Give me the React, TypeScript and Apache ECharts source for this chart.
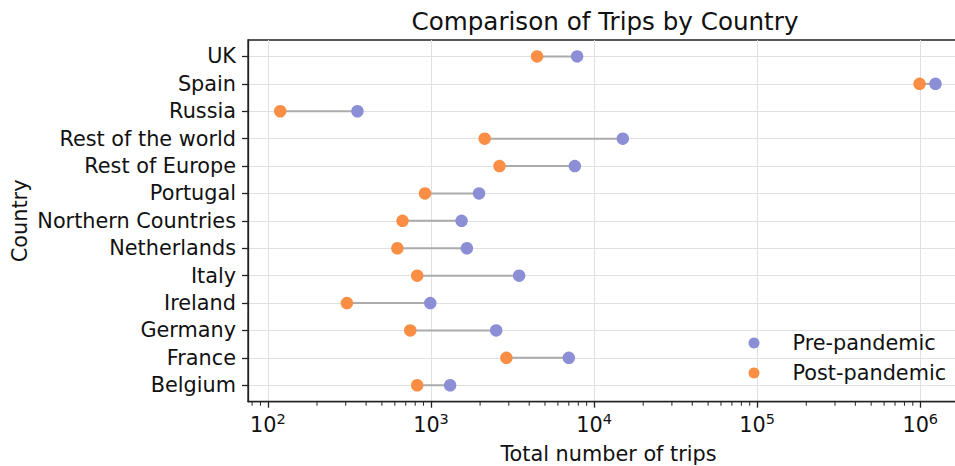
import React, { useEffect, useRef } from 'react';
import * as echarts from 'echarts';

const countries = [
  'Belgium', 'France', 'Germany', 'Ireland', 'Italy', 'Netherlands',
  'Northern Countries', 'Portugal', 'Rest of Europe', 'Rest of the world',
  'Russia', 'Spain', 'UK',
];
const prePandemic = [1310, 7000, 2510, 990, 3470, 1660, 1540, 1970, 7620, 15000, 354, 1240000, 7870];
const postPandemic = [823, 2900, 746, 305, 823, 622, 669, 919, 2630, 2135, 119, 990000, 4470];
const majorTicks = [100, 1000, 10000, 100000, 1000000];
const minorTicks = [
  80, 90,
  200, 300, 400, 500, 600, 700, 800, 900,
  2000, 3000, 4000, 5000, 6000, 7000, 8000, 9000,
  20000, 30000, 40000, 50000, 60000, 70000, 80000, 90000,
  200000, 300000, 400000, 500000, 600000, 700000, 800000, 900000,
];
const categoryIndex = countries.map((_, i) => i);
const X_MIN = 75.5;
const X_MAX = 1990000;
const Y_MIN = -0.6;
const Y_MAX = 12.6;

const FONT = 'DejaVu Sans';
const BLUE = '#8c8fd6';
const ORANGE = '#fa8e44';
const FS = 20.8;

export default function App() {
  const ref = useRef<HTMLDivElement>(null);
  useEffect(() => {
    if (!ref.current) return;
    const chart = echarts.init(ref.current, null, { renderer: 'svg' });
    const option: any = {
      animation: false,
      backgroundColor: '#ffffff',
      textStyle: { fontFamily: FONT },
      graphic: [
        {
          type: 'text',
          x: 605,
          y: 21,
          style: {
            text: 'Comparison of Trips by Country',
            fontFamily: FONT,
            fontSize: 24.6,
            fill: '#111111',
            textAlign: 'center',
            textVerticalAlign: 'middle',
          },
        },
      ],
      grid: {
        left: 248, top: 40, width: 721, height: 361.7,
        outerBoundsMode: 'none', containLabel: false,
        show: true, borderColor: '#222222', borderWidth: 1.3, backgroundColor: 'transparent',
      },
      legend: {
        orient: 'vertical',
        left: 743.5,
        top: 326,
        itemWidth: 11,
        itemHeight: 11,
        itemGap: 6,
        icon: 'circle',
        data: ['Pre-pandemic', 'Post-pandemic'],
        textStyle: { fontFamily: FONT, fontSize: FS, color: '#111111', padding: [0, 0, 0, 28], lineHeight: 24 },
      },
      xAxis: {
        type: 'log',
        logBase: 10,
        min: X_MIN,
        max: X_MAX,
        position: 'bottom',
        name: 'Total number of trips',
        nameLocation: 'middle',
        nameGap: 42,
        nameMoveOverlap: false,
        nameTextStyle: { fontFamily: FONT, fontSize: FS, color: '#111111' },
        axisLine: { show: true, onZero: false, lineStyle: { color: '#222222', width: 1.3 } },
        axisTick: { show: true, length: 6, customValues: majorTicks, lineStyle: { color: '#222222', width: 1.3 } },
        axisLabel: {
          customValues: majorTicks,
          margin: 10,
          formatter: (v: number) => `{b|10}{s|${Math.round(Math.log10(v))}}`,
          rich: {
            b: { fontFamily: FONT, fontSize: FS, color: '#111111', lineHeight: 24, verticalAlign: 'bottom' },
            s: { fontFamily: FONT, fontSize: 14.5, color: '#111111', lineHeight: 14, verticalAlign: 'top' },
          },
        },
        splitLine: { show: true, lineStyle: { color: '#e0e0e0', width: 1 } },
      },
      yAxis: {
        type: 'value',
        min: Y_MIN,
        max: Y_MAX,
        name: 'Country',
        nameLocation: 'middle',
        nameGap: 218,
        nameMoveOverlap: false,
        nameRotate: 90,
        nameTextStyle: { fontFamily: FONT, fontSize: FS, color: '#111111' },
        axisLine: { show: true, onZero: false, lineStyle: { color: '#222222', width: 1.3 } },
        axisTick: { show: true, length: 6, customValues: categoryIndex, lineStyle: { color: '#222222', width: 1.3 } },
        axisLabel: {
          customValues: categoryIndex,
          margin: 12,
          fontFamily: FONT,
          fontSize: FS,
          color: '#111111',
          formatter: (v: number) => countries[Math.round(v)] ?? '',
        },
        splitLine: { show: true, lineStyle: { color: '#e0e0e0', width: 1 } },
      },
      series: [
        {
          type: 'custom',
          renderItem: (params: any, api: any) => {
            const y = api.value(2);
            const p1 = api.coord([api.value(0), y]);
            const p2 = api.coord([api.value(1), y]);
            return {
              type: 'line',
              shape: { x1: p1[0], y1: p1[1], x2: p2[0], y2: p2[1] },
              style: { stroke: '#ababab', lineWidth: 2 },
            };
          },
          encode: { x: [0, 1], y: 2 },
          data: countries.map((_, i) => [prePandemic[i], postPandemic[i], i]),
          z: 1,
          silent: true,
        },
        {
          // minor ticks of the log axis
          type: 'scatter',
          clip: false,
          silent: true,
          symbol: 'rect',
          symbolSize: [1, 4],
          symbolOffset: [0, 2],
          itemStyle: { color: '#222222', opacity: 1 },
          data: minorTicks.map((v) => [v, Y_MIN]),
          z: 5,
        },
        {
          name: 'Pre-pandemic',
          type: 'scatter',
          symbol: 'circle',
          symbolSize: 12.5,
          itemStyle: { color: BLUE, opacity: 1 },
          data: prePandemic.map((v, i) => [v, i]),
          z: 3,
        },
        {
          name: 'Post-pandemic',
          type: 'scatter',
          symbol: 'circle',
          symbolSize: 12.5,
          itemStyle: { color: ORANGE, opacity: 1 },
          data: postPandemic.map((v, i) => [v, i]),
          z: 4,
        },
      ],
    };
    chart.setOption(option);
    return () => chart.dispose();
  }, []);
  return (
    <div
      ref={ref}
      style={{ position: 'fixed', left: 0, top: 0, width: 955, height: 466, background: '#fff' }}
    />
  );
}
